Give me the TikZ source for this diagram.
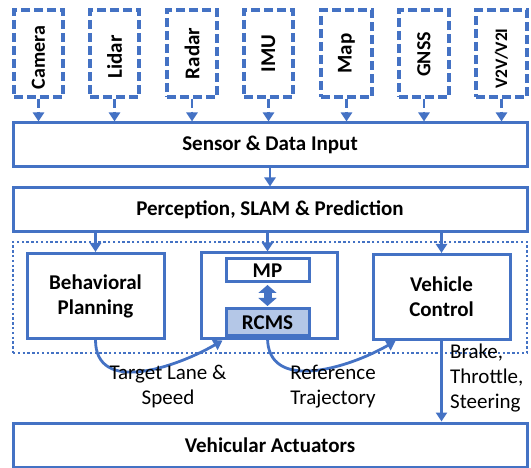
\documentclass[tikz,border=0pt]{standalone}
\usepackage{fontspec}
\setmainfont{Carlito}
\usetikzlibrary{arrows.meta}
\definecolor{ob}{HTML}{4472C4}
\definecolor{rc}{HTML}{B4C7E7}
\begin{document}
\begin{tikzpicture}[x=1pt,y=-1pt,
  box/.style={draw=ob, line width=3pt, fill=white, inner sep=0pt, align=center,
    font=\fontsize{21}{25}\selectfont\bfseries},
  sbox/.style={draw=ob, line width=3.2pt, dash pattern=on 9pt off 4pt, inner sep=0pt,
    minimum width=49pt, minimum height=87pt, font=\fontsize{21}{25}\selectfont\bfseries},
  stxt/.style={inner sep=0pt, rotate=90, font=\fontsize{#1}{25}\selectfont\bfseries},
  stxt/.default=21,
  arr/.style={draw=ob, line width=2.8pt, -{Triangle[width=11pt,length=9pt]}},
  lbl/.style={font=\fontsize{21}{25}\selectfont, align=center, inner sep=0pt}]
\useasboundingbox (0,0) rectangle (531,468);
% dotted group
\node[draw=ob, line width=2.4pt, dash pattern=on 2.4pt off 2.4pt, minimum width=514pt, minimum height=111pt, inner sep=0pt] (grp) at (270,297.5) {};
% sensors
\node[sbox] (cam) at (38.5,53.5) {};
\node[sbox] (lid) at (114.5,53.5) {};
\node[sbox, minimum width=50pt] (rad) at (192,53.5) {};
\node[sbox] (imu) at (268.5,53.5) {};
\node[sbox, minimum width=51pt] (map) at (346.5,53.5) {};
\node[sbox, minimum width=50pt] (gnss) at (424,53.5) {};
\node[sbox, minimum width=51pt] (v2v) at (501.5,53.5) {};
\node[stxt=20] (tcam) at ([yshift=-4pt]cam.center) {Camera};
\node[stxt=21] (tlid) at ([yshift=-3.5pt]lid.center) {Lidar};
\node[stxt=21] (trad) at (rad.center) {Radar};
\node[stxt=21] (timu) at (imu.center) {IMU};
\node[stxt=21] (tmap) at (map.center) {Map};
\node[stxt=20] (tgnss) at ([yshift=-1pt]gnss.center) {GNSS};
\node[stxt=17.5] (tv2v) at ([yshift=-5pt]v2v.center) {V2V/V2I};
% main boxes
\node[box, minimum width=514pt, minimum height=44pt] (inp) at (270,145) {Sensor \& Data Input};
\node[box, minimum width=514pt, minimum height=44pt] (per) at (270,210) {Perception, SLAM \& Prediction};
\node[box, minimum width=137pt, minimum height=85pt] (beh) at (95.5,296) {Behavioral\\Planning};
\node[box, minimum width=136pt, minimum height=86pt] (mid) at (269,296) {};
\node[box, minimum width=83pt, minimum height=23pt] (mp) at (267.5,270.5) {MP};
\node[box, fill=rc, minimum width=83pt, minimum height=27pt] (rcms) at (267.5,322.5) {RCMS};
\node[box, minimum width=137pt, minimum height=85pt] (vc) at (441.5,297) {Vehicle\\Control};
\node[box, minimum width=514pt, minimum height=44pt] (act) at (270,445) {Vehicular Actuators};
% sensor arrows
\foreach \s in {cam,lid,rad,imu,map,gnss,v2v}
  \draw[arr, dash pattern=on 9pt off 4pt] (\s.south) -- (\s.south |- inp.north);
\draw[arr] (inp.south -| per.north) -- (per.north);
\draw[arr] (per.south -| beh.north) -- (beh.north);
\draw[arr] (per.south -| mp.north) -- (mid.north -| mp.north);
\draw[arr] (per.south -| vc.north) -- (vc.north);
% double arrow
\draw[ob, line width=8pt, {Triangle[width=18pt,length=8pt]}-{Triangle[width=18pt,length=8pt]}]
  ([yshift=-1.5pt]mp.south) -- ([yshift=1.5pt]rcms.north);
% curved arrows
\draw[arr] (beh.south) to[out=-90,in=-150,looseness=1.1] ([xshift=23pt]mid.south west);
\draw[arr] (rcms.south) to[out=-90,in=-150,looseness=1.1] ([xshift=24pt]vc.south west);
\draw[arr] (vc.south) -- (vc.south |- act.north);
% labels
\node[lbl] (l1) at (168,387) {Target Lane \&\\Speed};
\node[lbl] (l2) at (333,387) {Reference\\Trajectory};
\node[lbl, align=left, anchor=west] (l3) at (450,378.5) {Brake,\\Throttle,\\Steering};
\end{tikzpicture}
\end{document}
